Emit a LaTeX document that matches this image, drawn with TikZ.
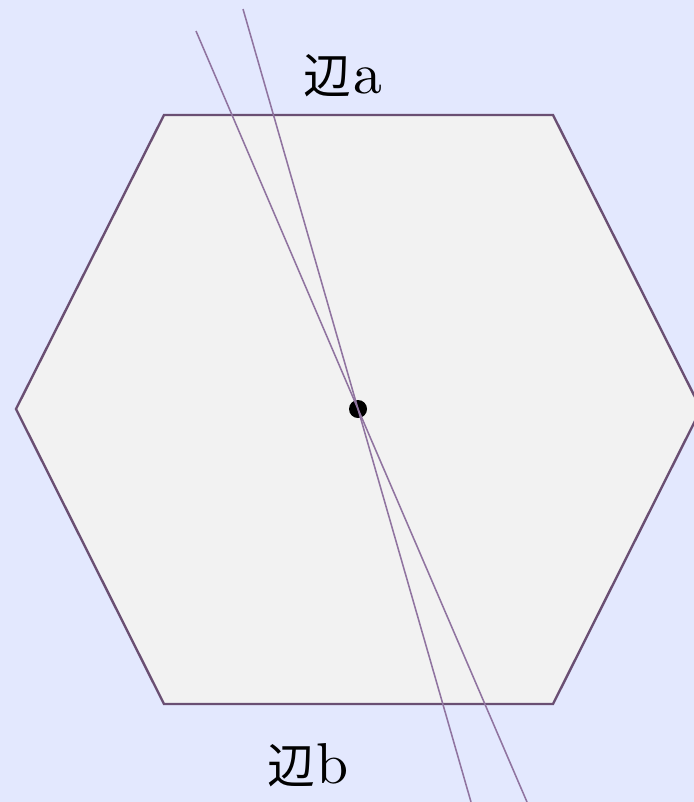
\documentclass[tikz,border=0pt]{standalone}
\usepackage{fontspec}
\newfontfamily\cjk{Noto Sans CJK JP}
\newfontfamily\lmten{lmroman10-regular.otf}
\usetikzlibrary{positioning}
\definecolor{bgblue}{HTML}{E3E8FE}
\definecolor{hexfill}{HTML}{F2F2F2}
\definecolor{hexedge}{HTML}{6A4F73}
\definecolor{cutline}{HTML}{9074A0}
\newcommand{\sidename}[1]{{\cjk\fontsize{34}{40}\selectfont 辺}\kern1pt{\fontsize{41}{46}\selectfont #1}}

\begin{document}
\begin{tikzpicture}[x=0.025cm, y=-0.025cm,
    hexside/.style={draw=hexedge, line width=1.7pt, fill=hexfill, line join=miter},
    cutter/.style={draw=cutline, line width=1.1pt},
    sidelabel/.style={font=\lmten, inner sep=0pt, anchor=base}]
    % background and frame
    \fill[bgblue] (0,0) rectangle (694,802);
    \useasboundingbox (0,0) rectangle (694,802);
    % hexagon corners
    \coordinate (h1) at (164,115);
    \coordinate (h2) at (553,115);
    \coordinate (h3) at (701,409);
    \coordinate (h4) at (553,704);
    \coordinate (h5) at (164,704);
    \coordinate (h6) at (16,409);
    \draw[hexside] (h1) -- (h2) -- (h3) -- (h4) -- (h5) -- (h6) -- cycle;
    % centre point
    \node[circle, fill=black, minimum size=0.45cm, inner sep=0pt] (ctr) at (358,409) {};
    % two lines through the centre
    \coordinate (l1a) at (196,31);
    \coordinate (l1b) at (527,802);
    \coordinate (l2a) at (243,9);
    \coordinate (l2b) at (471,802);
    \draw[cutter] (l1a) -- (ctr.center) -- (l1b);
    \draw[cutter] (l2a) -- (ctr.center) -- (l2b);
    % side names
    \node[sidelabel] (sa) at (343,93) {\sidename{a}};
    \node[sidelabel] (sb) at (308,783) {\sidename{b}};
\end{tikzpicture}
\end{document}
